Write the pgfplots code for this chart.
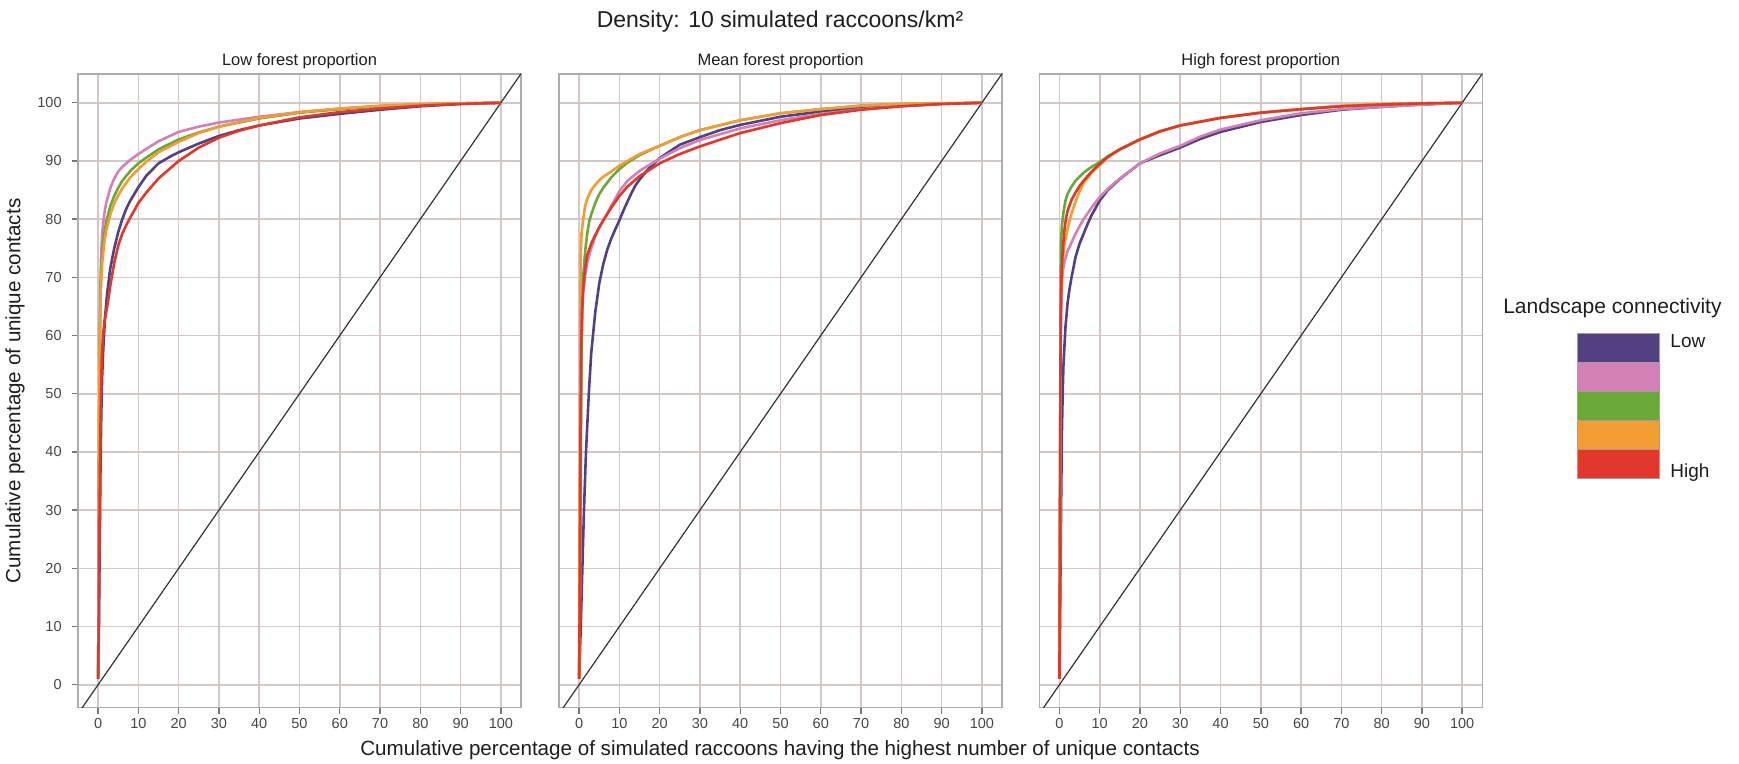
\documentclass[border=0pt]{standalone}
\usepackage{fontspec}
\setmainfont{Liberation Sans}
\usepackage{pgfplots}
\pgfplotsset{compat=1.18}

\definecolor{lowc}{RGB}{82,64,130}
\definecolor{pinkc}{RGB}{210,128,182}
\definecolor{greenc}{RGB}{106,168,56}
\definecolor{orangec}{RGB}{242,156,50}
\definecolor{redc}{RGB}{226,56,44}
\definecolor{gridc}{RGB}{210,200,200}
\definecolor{framec}{RGB}{175,172,172}
\definecolor{tickc}{RGB}{120,120,120}
\definecolor{labc}{RGB}{70,70,70}
\definecolor{titc}{RGB}{30,30,30}

\pgfplotsset{
  panel/.style={
    scale only axis, width=221.5pt, height=316.85pt, anchor=south west,
    xmin=-5, xmax=105, ymin=-3.95, ymax=104.95,
    xtick={0,10,...,100}, ytick={0,10,...,100},
    grid=major, major grid style={gridc, line width=0.8pt},
    axis line style={framec, line width=0.8pt},
    tick align=outside, major tick length=3pt,
    tick style={tickc, line width=0.7pt},
    tick pos=left,
    tick label style={font=\fontsize{7.25}{8}\selectfont, text=labc},
    xticklabel style={inner sep=0pt, anchor=north, yshift=-2pt},
    yticklabel style={inner sep=0pt, anchor=east, xshift=-5pt},
    /pgf/number format/assume math mode=true,
  },
  noy/.style={yticklabels={}, ytick style={draw=none}},
  curve/.style={line width=1.3pt, line join=round},
  diag/.style={line width=0.6pt, color=black!80},
}

\begin{document}
\begin{tikzpicture}
\useasboundingbox (0,0) rectangle (869.5pt,382pt);

% ---------- Low forest proportion ----------
\begin{axis}[panel, at={(39pt,28.15pt)}]
\addplot[diag] coordinates {(-5,-5) (105,105)};
\addplot[curve, lowc] coordinates {(0,1) (0.2,10) (0.4,25) (0.6,38) (0.8,47) (1,53) (1.3,58) (1.7,63) (2.2,67) (3,71.5) (4,75) (5,77.8) (6,80) (7,81.8) (8,83.2) (10,85.5) (12,87.5) (15,89.6) (18,90.8) (20,91.5) (25,93) (30,94.3) (35,95.3) (40,96.1) (50,97.3) (60,98.1) (70,98.8) (80,99.4) (90,99.8) (100,100)};
\addplot[curve, pinkc] coordinates {(0,1) (0.1,15) (0.2,35) (0.35,55) (0.5,66) (0.7,73) (1,77.5) (1.5,80.8) (2,82.8) (3,85.3) (4,87) (5,88.2) (6,89) (8,90.2) (10,91.2) (12,92.1) (15,93.4) (20,95) (25,95.9) (30,96.6) (40,97.6) (50,98.4) (60,99) (70,99.4) (80,99.7) (90,99.9) (100,100)};
\addplot[curve, greenc] coordinates {(0,1) (0.1,15) (0.2,35) (0.35,55) (0.5,64) (0.7,70) (1,74) (1.5,77.3) (2,79.5) (3,82.2) (4,84) (5,85.4) (6,86.6) (8,88.3) (10,89.6) (12,90.6) (15,92) (20,93.7) (25,94.9) (30,95.9) (40,97.3) (50,98.3) (60,98.9) (70,99.4) (80,99.7) (90,99.9) (100,100)};
\addplot[curve, orangec] coordinates {(0,1) (0.1,15) (0.2,35) (0.35,55) (0.5,63) (0.7,68.5) (1,72.5) (1.5,75.8) (2,78) (3,80.8) (4,82.7) (5,84.1) (6,85.3) (8,87.2) (10,88.6) (12,89.9) (15,91.5) (20,93.3) (25,94.8) (30,95.9) (40,97.4) (50,98.4) (60,99) (70,99.5) (80,99.8) (90,99.9) (100,100)};
\addplot[curve, redc] coordinates {(0,1) (0.15,10) (0.3,25) (0.5,40) (0.7,50) (0.9,56) (1.2,60) (1.6,62.5) (2,64) (2.5,66) (3,68.5) (4,72.5) (5,75.5) (6,77.5) (7,79) (8,80.3) (10,82.8) (12,84.6) (15,87) (18,88.8) (20,90) (25,92.3) (30,94) (35,95.2) (40,96.1) (50,97.5) (60,98.4) (70,99) (80,99.5) (90,99.8) (100,100)};
\end{axis}

% ---------- Mean forest proportion ----------
\begin{axis}[panel, noy, at={(279.5pt,28.15pt)}]
\addplot[diag] coordinates {(-5,-5) (105,105)};
\addplot[curve, lowc] coordinates {(0,1) (0.4,10) (0.8,20) (1.2,30) (1.7,40) (2.4,50) (3,57) (4,64) (5,69) (6,72.3) (7,74.8) (8,76.7) (9,78.3) (10,79.8) (11,81.5) (12,83) (13,84.5) (14,85.8) (15,86.8) (17,88.5) (20,90.5) (25,92.8) (30,94.1) (35,95.3) (40,96.2) (50,97.6) (60,98.5) (70,99.1) (80,99.5) (90,99.8) (100,100)};
\addplot[curve, pinkc] coordinates {(0,1) (0.2,15) (0.4,40) (0.6,58) (0.8,64) (1,67.5) (1.5,70.5) (2,72.5) (3,75) (4,77) (5,78.6) (6,79.8) (7,81) (8,82.3) (10,84.8) (12,86.6) (15,88.3) (20,90.4) (25,92.2) (30,93.6) (40,95.6) (50,97) (60,98.1) (70,98.9) (80,99.4) (90,99.8) (100,100)};
\addplot[curve, greenc] coordinates {(0,1) (0.2,15) (0.4,40) (0.6,60) (0.8,66) (1,70) (1.5,74.5) (2,77.5) (2.5,79.6) (3,80.8) (4,82.8) (5,84.3) (6,85.4) (8,87.2) (10,88.6) (12,89.7) (15,91) (20,92.6) (25,94.1) (30,95.3) (40,97) (50,98.2) (60,98.9) (70,99.5) (80,99.8) (90,99.9) (100,100)};
\addplot[curve, orangec] coordinates {(0,1) (0.1,20) (0.2,45) (0.3,65) (0.4,74) (0.6,77.5) (1,80) (1.5,82.3) (2,83.5) (3,85) (4,85.9) (5,86.7) (6,87.3) (8,88.2) (10,89.2) (12,90) (15,91.2) (20,92.6) (25,94.1) (30,95.3) (40,97) (50,98.2) (60,98.9) (70,99.5) (80,99.8) (90,99.9) (100,100)};
\addplot[curve, redc] coordinates {(0,1) (0.15,15) (0.3,40) (0.5,58) (0.7,64) (1,68) (1.5,71.5) (2,73.8) (3,75.8) (4,77.3) (5,78.6) (6,79.8) (8,82) (10,84) (12,85.6) (15,87.4) (20,89.6) (25,91.2) (30,92.5) (40,94.8) (50,96.5) (60,97.9) (70,98.8) (80,99.4) (90,99.8) (100,100)};
\end{axis}

% ---------- High forest proportion, with the colour key ----------
\begin{axis}[panel, noy, at={(519.65pt,28.15pt)},
  legend style={at={(axis description cs:1.2138,0.5913)}, anchor=north west,
    draw=none, fill=none, inner sep=0pt, outer sep=0pt,
    nodes={inner sep=0pt}, column sep=0pt},
]
\addlegendimage{legend image code/.code={
  \path[draw=gray!75, line width=0.4pt, fill=lowc]    (0pt,21.75pt)  rectangle (41pt,36.25pt);
  \path[draw=gray!75, line width=0.4pt, fill=pinkc]   (0pt,7.25pt)   rectangle (41pt,21.75pt);
  \path[draw=gray!75, line width=0.4pt, fill=greenc]  (0pt,-7.25pt)  rectangle (41pt,7.25pt);
  \path[draw=gray!75, line width=0.4pt, fill=orangec] (0pt,-21.75pt) rectangle (41pt,-7.25pt);
  \path[draw=gray!75, line width=0.4pt, fill=redc]    (0pt,-36.25pt) rectangle (41pt,-21.75pt);
  \node[overlay, anchor=west, inner sep=0pt, text=titc, font=\fontsize{9.5}{11}\selectfont] at (46.5pt,31.9pt) {Low};
  \node[overlay, anchor=west, inner sep=0pt, text=titc, font=\fontsize{9.5}{11}\selectfont] at (46.5pt,-33.1pt) {High};
  \node[overlay, anchor=center, inner sep=0pt, text=titc, font=\fontsize{10.5}{12}\selectfont] at (17.5pt,49.25pt) {Landscape connectivity};
}}
\addlegendentry{}
\addplot[diag] coordinates {(-5,-5) (105,105)};
\addplot[curve, lowc] coordinates {(0,1) (0.2,15) (0.4,30) (0.6,43) (0.8,50) (1,55) (1.5,61.5) (2,65.5) (2.5,68) (3,70) (4,73.5) (5,75.8) (6,77.5) (7,79.2) (8,80.7) (10,83.2) (12,85) (15,86.9) (20,89.6) (25,91) (30,92.3) (35,93.8) (40,95) (50,96.7) (60,97.9) (70,98.8) (80,99.3) (90,99.7) (100,100)};
\addplot[curve, pinkc] coordinates {(0,1) (0.1,15) (0.2,40) (0.35,60) (0.5,68) (0.8,71) (1.2,72.5) (2,74.5) (3,76) (4,77.5) (5,78.8) (6,80) (7,81) (8,82) (10,83.8) (12,85.2) (15,87) (20,89.6) (25,91.3) (30,92.6) (35,94.2) (40,95.4) (50,97) (60,98.2) (70,98.9) (80,99.3) (90,99.7) (100,100)};
\addplot[curve, greenc] coordinates {(0,1) (0.1,20) (0.2,50) (0.3,70) (0.4,76) (0.6,78.8) (1,81.2) (1.5,83.2) (2,84.3) (3,85.6) (4,86.6) (5,87.3) (6,88) (8,89) (10,89.8) (12,90.8) (15,92) (20,93.7) (25,95.1) (30,96.1) (40,97.4) (50,98.3) (60,98.9) (70,99.4) (80,99.7) (90,99.9) (100,100)};
\addplot[curve, orangec] coordinates {(0,1) (0.1,20) (0.2,45) (0.3,62) (0.5,68) (0.8,72.5) (1.2,75.5) (2,78.3) (3,81) (4,83) (5,84.8) (6,86.2) (8,88) (10,89.3) (12,90.6) (15,92) (20,93.7) (25,95.1) (30,96.1) (40,97.4) (50,98.3) (60,98.9) (70,99.5) (80,99.8) (90,99.9) (100,100)};
\addplot[curve, redc] coordinates {(0,1) (0.1,20) (0.2,45) (0.3,62) (0.5,70) (0.8,74.5) (1.2,78) (1.6,80) (2,81.4) (3,83.3) (4,84.6) (5,85.7) (6,86.6) (8,88.2) (10,89.5) (12,90.7) (15,92) (20,93.7) (25,95.1) (30,96.1) (40,97.4) (50,98.3) (60,98.9) (70,99.4) (80,99.7) (90,99.9) (100,100)};
\end{axis}

% ---------- titles and axis labels ----------
\node[text=titc, font=\fontsize{11.5}{13}\selectfont] at (390pt,371pt) {Density: 10 simulated raccoons/km²};
\node[text=titc, font=\fontsize{8.25}{10}\selectfont] at (149.75pt,351.5pt) {Low forest proportion};
\node[text=titc, font=\fontsize{8.25}{10}\selectfont] at (390.25pt,351.5pt) {Mean forest proportion};
\node[text=titc, font=\fontsize{8.25}{10}\selectfont] at (630.4pt,351.5pt) {High forest proportion};
\node[text=titc, font=\fontsize{10.3}{12}\selectfont] at (390pt,7pt) {Cumulative percentage of simulated raccoons having the highest number of unique contacts};
\node[text=titc, rotate=90, font=\fontsize{10.3}{12}\selectfont] at (7.5pt,186.5pt) {Cumulative percentage of unique contacts};
\end{tikzpicture}
\end{document}
